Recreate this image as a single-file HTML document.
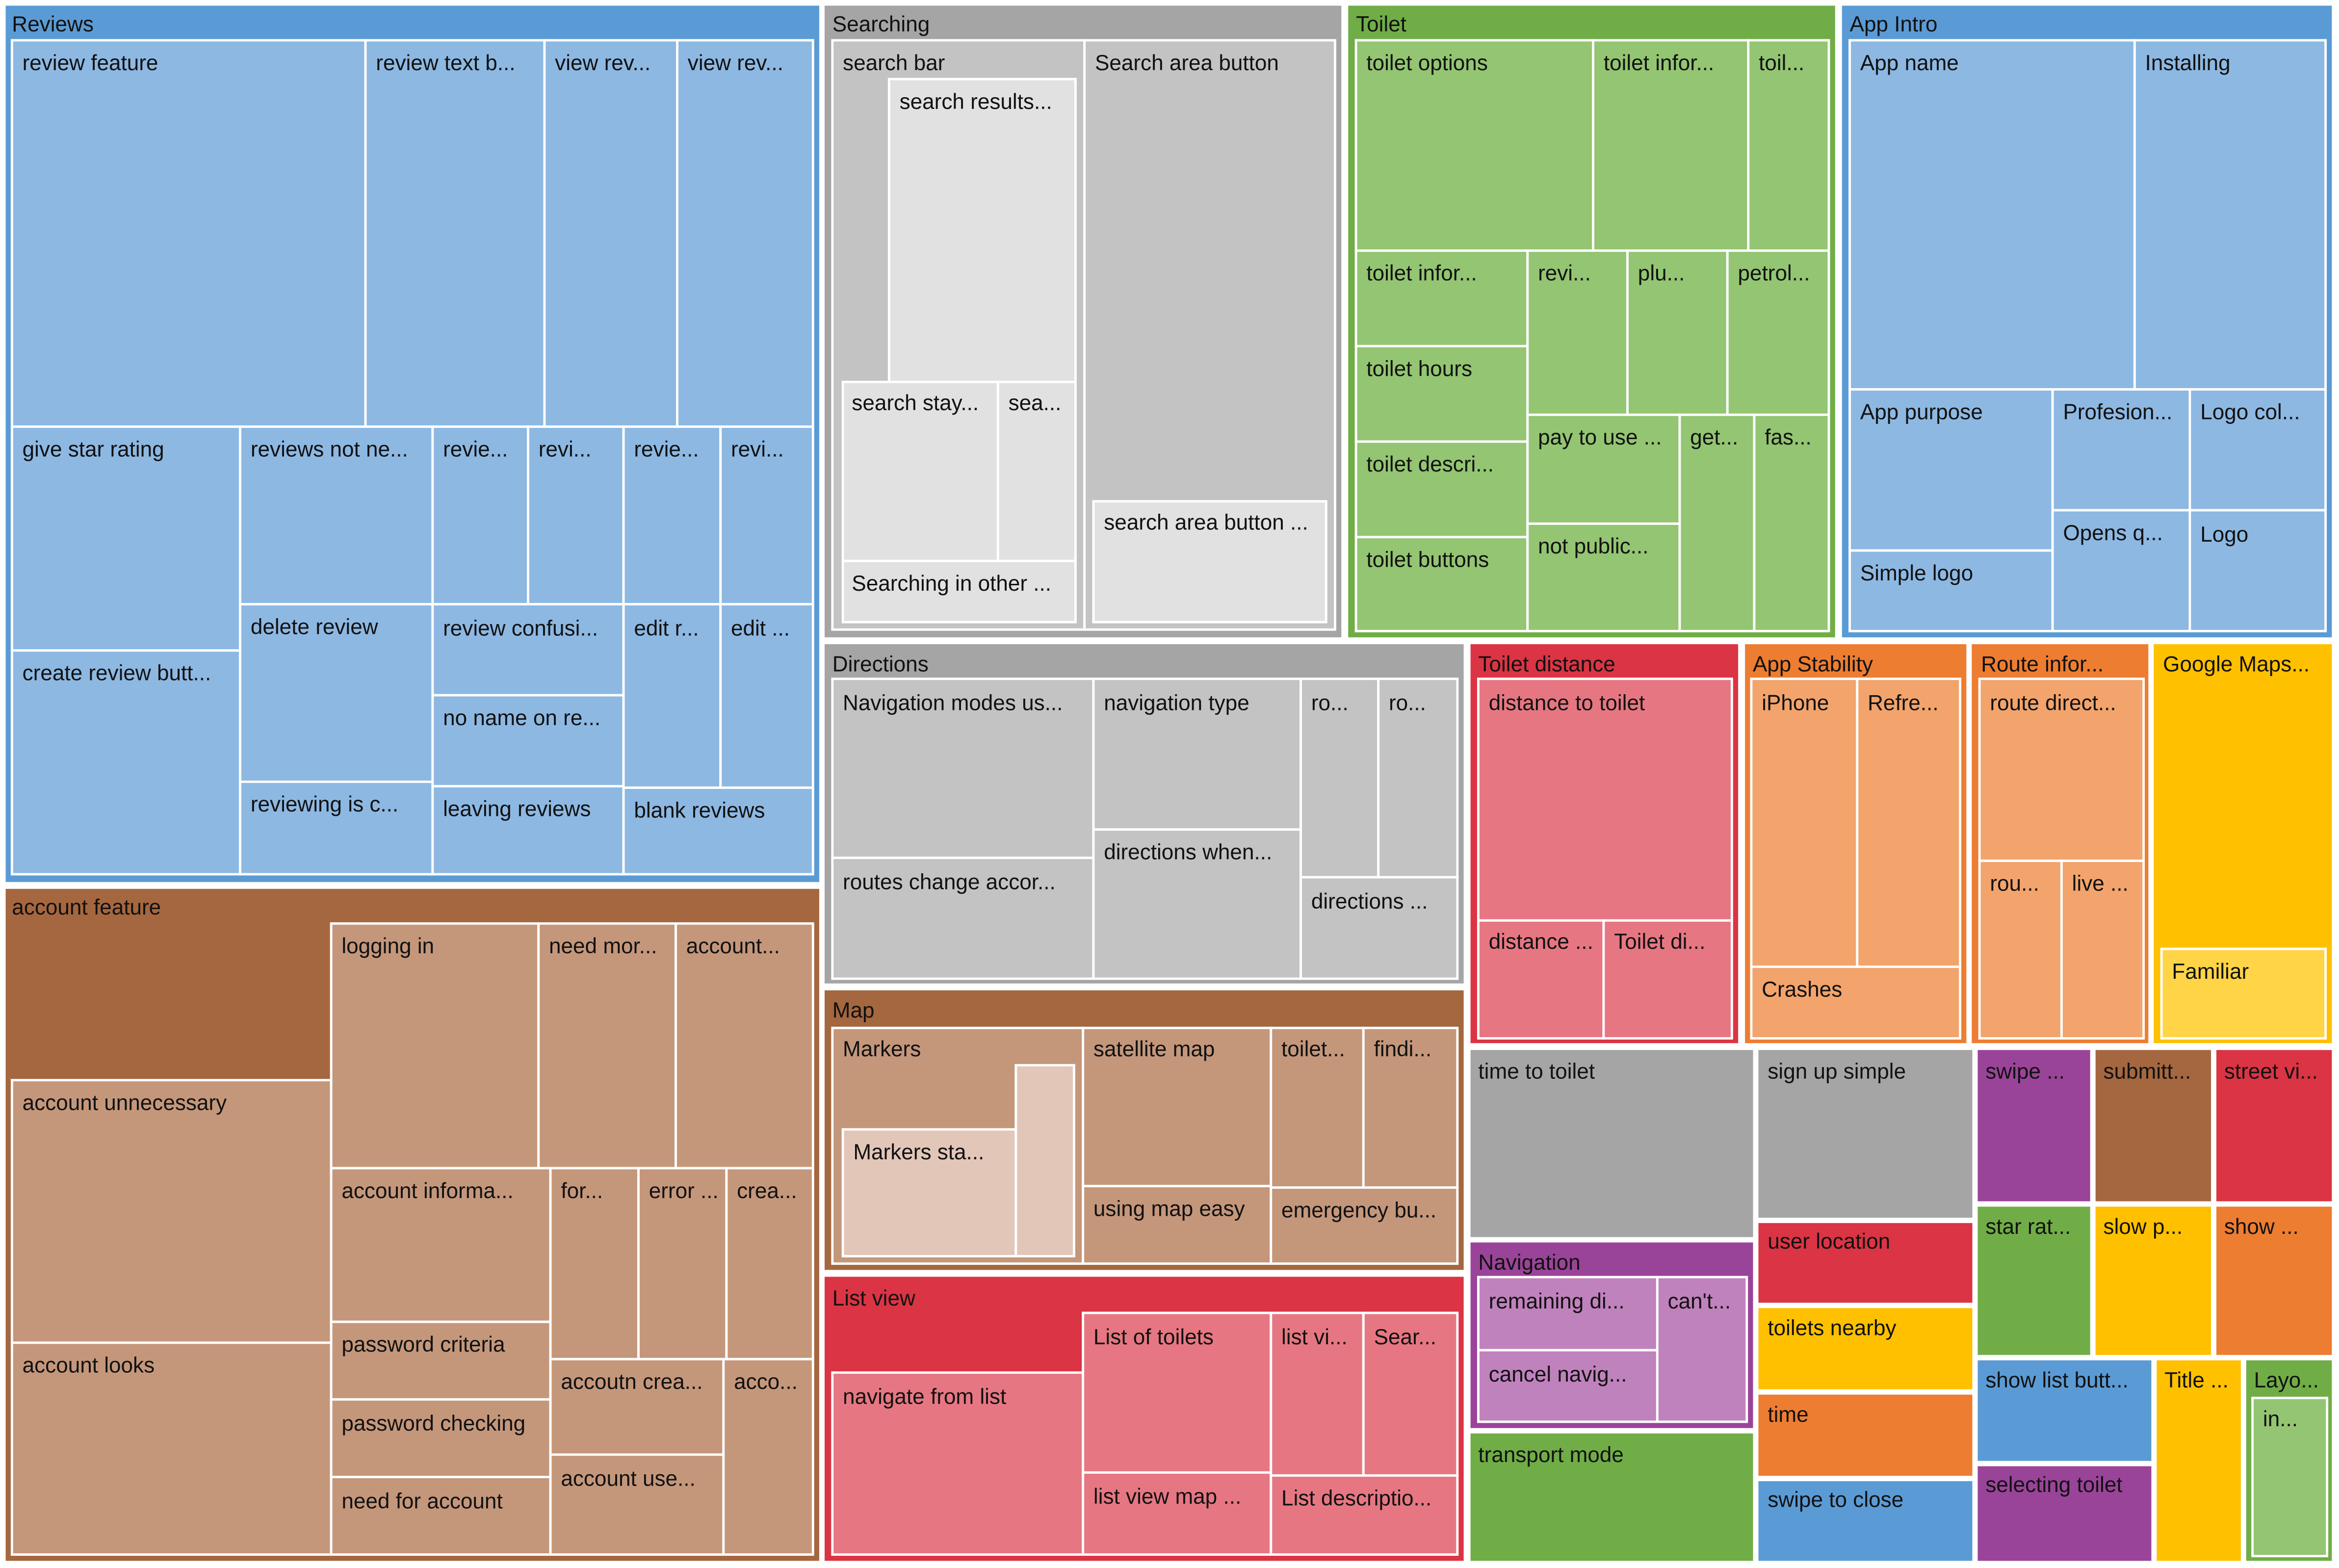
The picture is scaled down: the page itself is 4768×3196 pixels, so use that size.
<!DOCTYPE html>
<html><head><meta charset="utf-8"><style>
html,body{margin:0;padding:0;background:#fff;}
svg{display:block;}
text{font-family:"Liberation Sans",sans-serif;font-size:14.5px;fill:#111;}
rect{stroke:#fff;stroke-width:1.6;}
</style></head><body>
<svg width="4768" height="3196" viewBox="0 0 1568 1051" preserveAspectRatio="none" xmlns="http://www.w3.org/2000/svg">
<rect x="0" y="0" width="1568" height="1051" fill="#fff" style="stroke:none"/>

<!-- Reviews -->
<g>
<rect x="3" y="3" width="547" height="589" fill="#5b9bd5"/>
<text x="8" y="21">Reviews</text>
<g fill="#8db8e2">
<rect x="8" y="27" width="237" height="259"/><text x="15" y="47">review feature</text>
<rect x="245" y="27" width="120" height="259"/><text x="252" y="47">review text b...</text>
<rect x="365" y="27" width="89" height="259"/><text x="372" y="47">view rev...</text>
<rect x="454" y="27" width="91" height="259"/><text x="461" y="47">view rev...</text>
<rect x="8" y="286" width="153" height="150"/><text x="15" y="306">give star rating</text>
<rect x="8" y="436" width="153" height="150"/><text x="15" y="456">create review butt...</text>
<rect x="161" y="286" width="129" height="119"/><text x="168" y="306">reviews not ne...</text>
<rect x="161" y="405" width="129" height="119"/><text x="168" y="425">delete review</text>
<rect x="161" y="524" width="129" height="62"/><text x="168" y="544">reviewing is c...</text>
<rect x="290" y="286" width="64" height="119"/><text x="297" y="306">revie...</text>
<rect x="354" y="286" width="64" height="119"/><text x="361" y="306">revi...</text>
<rect x="290" y="405" width="128" height="61"/><text x="297" y="426">review confusi...</text>
<rect x="290" y="466" width="128" height="61"/><text x="297" y="486">no name on re...</text>
<rect x="290" y="527" width="128" height="59"/><text x="297" y="547">leaving reviews</text>
<rect x="418" y="286" width="65" height="119"/><text x="425" y="306">revie...</text>
<rect x="483" y="286" width="62" height="119"/><text x="490" y="306">revi...</text>
<rect x="418" y="405" width="65" height="123"/><text x="425" y="426">edit r...</text>
<rect x="483" y="405" width="62" height="123"/><text x="490" y="426">edit ...</text>
<rect x="418" y="528" width="127" height="58"/><text x="425" y="548">blank reviews</text>
</g></g>

<!-- Searching -->
<g>
<rect x="552" y="3" width="348" height="425" fill="#a5a5a5"/>
<text x="558" y="21">Searching</text>
<rect x="558" y="27" width="169" height="395" fill="#c3c3c3"/><text x="565" y="47">search bar</text>
<rect x="727" y="27" width="168" height="395" fill="#c3c3c3"/><text x="734" y="47">Search area button</text>
<g fill="#e1e1e1">
<rect x="596" y="53" width="125" height="203"/><text x="603" y="73">search results...</text>
<rect x="565" y="256" width="104" height="120"/><text x="571" y="275">search stay...</text>
<rect x="669" y="256" width="52" height="120"/><text x="676" y="275">sea...</text>
<rect x="565" y="376" width="156" height="41"/><text x="571" y="396">Searching in other ...</text>
<rect x="733" y="336" width="156" height="81"/><text x="740" y="355">search area button ...</text>
</g></g>

<!-- Toilet -->
<g>
<rect x="903" y="3" width="328" height="425" fill="#70ad47"/>
<text x="909" y="21">Toilet</text>
<g fill="#93c572">
<rect x="909" y="27" width="159" height="141"/><text x="916" y="47">toilet options</text>
<rect x="1068" y="27" width="104" height="141"/><text x="1075" y="47">toilet infor...</text>
<rect x="1172" y="27" width="54" height="141"/><text x="1179" y="47">toil...</text>
<rect x="909" y="168" width="115" height="64"/><text x="916" y="188">toilet infor...</text>
<rect x="909" y="232" width="115" height="64"/><text x="916" y="252">toilet hours</text>
<rect x="909" y="296" width="115" height="64"/><text x="916" y="316">toilet descri...</text>
<rect x="909" y="360" width="115" height="63"/><text x="916" y="380">toilet buttons</text>
<rect x="1024" y="168" width="67" height="110"/><text x="1031" y="188">revi...</text>
<rect x="1091" y="168" width="67" height="110"/><text x="1098" y="188">plu...</text>
<rect x="1158" y="168" width="68" height="110"/><text x="1165" y="188">petrol...</text>
<rect x="1024" y="278" width="102" height="73"/><text x="1031" y="298">pay to use ...</text>
<rect x="1024" y="351" width="102" height="72"/><text x="1031" y="371">not public...</text>
<rect x="1126" y="278" width="50" height="145"/><text x="1133" y="298">get...</text>
<rect x="1176" y="278" width="50" height="145"/><text x="1183" y="298">fas...</text>
</g></g>

<!-- App Intro -->
<g>
<rect x="1234" y="3" width="330" height="425" fill="#5b9bd5"/>
<text x="1240" y="21">App Intro</text>
<g fill="#8db8e2">
<rect x="1240" y="27" width="191" height="234"/><text x="1247" y="47">App name</text>
<rect x="1431" y="27" width="128" height="234"/><text x="1438" y="47">Installing</text>
<rect x="1240" y="261" width="136" height="108"/><text x="1247" y="281">App purpose</text>
<rect x="1240" y="369" width="136" height="54"/><text x="1247" y="389">Simple logo</text>
<rect x="1376" y="261" width="92" height="81"/><text x="1383" y="281">Profesion...</text>
<rect x="1376" y="342" width="92" height="81"/><text x="1383" y="362">Opens q...</text>
<rect x="1468" y="261" width="91" height="81"/><text x="1475" y="281">Logo col...</text>
<rect x="1468" y="342" width="91" height="81"/><text x="1475" y="363">Logo</text>
</g></g>

<!-- account feature -->
<g>
<rect x="3" y="595" width="547" height="452" fill="#a5673f"/>
<text x="8" y="613">account feature</text>
<g fill="#c4977b">
<rect x="8" y="724" width="214" height="176"/><text x="15" y="744">account unnecessary</text>
<rect x="8" y="900" width="214" height="142"/><text x="15" y="920">account looks</text>
<rect x="222" y="619" width="139" height="164"/><text x="229" y="639">logging in</text>
<rect x="361" y="619" width="92" height="164"/><text x="368" y="639">need mor...</text>
<rect x="453" y="619" width="92" height="164"/><text x="460" y="639">account...</text>
<rect x="222" y="783" width="147" height="103"/><text x="229" y="803">account informa...</text>
<rect x="222" y="886" width="147" height="52"/><text x="229" y="906">password criteria</text>
<rect x="222" y="938" width="147" height="52"/><text x="229" y="959">password checking</text>
<rect x="222" y="990" width="147" height="52"/><text x="229" y="1011">need for account</text>
<rect x="369" y="783" width="59" height="128"/><text x="376" y="803">for...</text>
<rect x="428" y="783" width="59" height="128"/><text x="435" y="803">error ...</text>
<rect x="487" y="783" width="58" height="128"/><text x="494" y="803">crea...</text>
<rect x="369" y="911" width="116" height="64"/><text x="376" y="931">accoutn crea...</text>
<rect x="369" y="975" width="116" height="67"/><text x="376" y="996">account use...</text>
<rect x="485" y="911" width="60" height="131"/><text x="492" y="931">acco...</text>
</g></g>

<!-- Directions -->
<g>
<rect x="552" y="431" width="430" height="229" fill="#a5a5a5"/>
<text x="558" y="450">Directions</text>
<g fill="#c3c3c3">
<rect x="558" y="455" width="175" height="120"/><text x="565" y="476">Navigation modes us...</text>
<rect x="558" y="575" width="175" height="81"/><text x="565" y="596">routes change accor...</text>
<rect x="733" y="455" width="139" height="101"/><text x="740" y="476">navigation type</text>
<rect x="733" y="556" width="139" height="100"/><text x="740" y="576">directions when...</text>
<rect x="872" y="455" width="52" height="133"/><text x="879" y="476">ro...</text>
<rect x="924" y="455" width="53" height="133"/><text x="931" y="476">ro...</text>
<rect x="872" y="588" width="105" height="68"/><text x="879" y="609">directions ...</text>
</g></g>

<!-- Map -->
<g>
<rect x="552" y="663" width="430" height="189" fill="#a5673f"/>
<text x="558" y="682">Map</text>
<g fill="#c4977b">
<rect x="558" y="689" width="168" height="158"/><text x="565" y="708">Markers</text>
<rect x="726" y="689" width="126" height="106"/><text x="733" y="708">satellite map</text>
<rect x="726" y="795" width="126" height="52"/><text x="733" y="815">using map easy</text>
<rect x="852" y="689" width="62" height="107"/><text x="859" y="708">toilet...</text>
<rect x="914" y="689" width="63" height="107"/><text x="921" y="708">findi...</text>
<rect x="852" y="796" width="125" height="51"/><text x="859" y="816">emergency bu...</text>
</g>
<g fill="#e2c6b8">
<rect x="565" y="757" width="116" height="85"/><text x="572" y="777">Markers sta...</text>
<rect x="681" y="714" width="39" height="128"/>
</g></g>

<!-- List view -->
<g>
<rect x="552" y="855" width="430" height="192" fill="#db3444"/>
<text x="558" y="875">List view</text>
<g fill="#e67782">
<rect x="558" y="920" width="168" height="122"/><text x="565" y="941">navigate from list</text>
<rect x="726" y="880" width="126" height="107"/><text x="733" y="901">List of toilets</text>
<rect x="726" y="987" width="126" height="55"/><text x="733" y="1008">list view map ...</text>
<rect x="852" y="880" width="62" height="109"/><text x="859" y="901">list vi...</text>
<rect x="914" y="880" width="63" height="109"/><text x="921" y="901">Sear...</text>
<rect x="852" y="989" width="125" height="53"/><text x="859" y="1009">List descriptio...</text>
</g></g>

<!-- Toilet distance -->
<g>
<rect x="985" y="431" width="181" height="269" fill="#db3444"/>
<text x="991" y="450">Toilet distance</text>
<g fill="#e67782">
<rect x="991" y="455" width="170" height="162"/><text x="998" y="476">distance to toilet</text>
<rect x="991" y="617" width="84" height="79"/><text x="998" y="636">distance ...</text>
<rect x="1075" y="617" width="86" height="79"/><text x="1082" y="636">Toilet di...</text>
</g></g>

<!-- App Stability -->
<g>
<rect x="1169" y="431" width="150" height="269" fill="#ed7d31"/>
<text x="1175" y="450">App Stability</text>
<g fill="#f2a46c">
<rect x="1174" y="455" width="71" height="193"/><text x="1181" y="476">iPhone</text>
<rect x="1245" y="455" width="69" height="193"/><text x="1252" y="476">Refre...</text>
<rect x="1174" y="648" width="140" height="48"/><text x="1181" y="668">Crashes</text>
</g></g>

<!-- Route infor -->
<g>
<rect x="1321" y="431" width="120" height="269" fill="#ed7d31"/>
<text x="1328" y="450">Route infor...</text>
<g fill="#f2a46c">
<rect x="1327" y="455" width="110" height="122"/><text x="1334" y="476">route direct...</text>
<rect x="1327" y="577" width="55" height="119"/><text x="1334" y="597">rou...</text>
<rect x="1382" y="577" width="55" height="119"/><text x="1389" y="597">live ...</text>
</g></g>

<!-- Google Maps -->
<g>
<rect x="1443" y="431" width="121" height="269" fill="#ffc000"/>
<text x="1450" y="450">Google Maps...</text>
<rect x="1449" y="636" width="110" height="60" fill="#ffd446"/><text x="1456" y="656">Familiar</text>
</g>

<!-- misc leaves -->
<rect x="985" y="703" width="191" height="127" fill="#a5a5a5"/><text x="991" y="723">time to toilet</text>
<rect x="1178" y="703" width="145" height="114" fill="#a5a5a5"/><text x="1185" y="723">sign up simple</text>

<g>
<rect x="985" y="832" width="191" height="126" fill="#9a4499"/>
<text x="991" y="851">Navigation</text>
<g fill="#c082bd">
<rect x="991" y="856" width="120" height="49"/><text x="998" y="877">remaining di...</text>
<rect x="991" y="905" width="120" height="48"/><text x="998" y="926">cancel navig...</text>
<rect x="1111" y="856" width="60" height="97"/><text x="1118" y="877">can't...</text>
</g></g>

<rect x="985" y="960" width="191" height="87" fill="#70ad47"/><text x="991" y="980">transport mode</text>
<rect x="1178" y="819" width="145" height="55" fill="#db3444"/><text x="1185" y="837">user location</text>
<rect x="1178" y="876" width="145" height="56" fill="#ffc000"/><text x="1185" y="895">toilets nearby</text>
<rect x="1178" y="934" width="145" height="56" fill="#ed7d31"/><text x="1185" y="953">time</text>
<rect x="1178" y="992" width="145" height="55" fill="#5b9bd5"/><text x="1185" y="1010">swipe to close</text>

<rect x="1325" y="703" width="77" height="103" fill="#9a4499"/><text x="1331" y="723">swipe ...</text>
<rect x="1404" y="703" width="79" height="103" fill="#a5673f"/><text x="1410" y="723">submitt...</text>
<rect x="1485" y="703" width="79" height="103" fill="#db3444"/><text x="1491" y="723">street vi...</text>
<rect x="1325" y="808" width="77" height="101" fill="#70ad47"/><text x="1331" y="827">star rat...</text>
<rect x="1404" y="808" width="79" height="101" fill="#ffc000"/><text x="1410" y="827">slow p...</text>
<rect x="1485" y="808" width="79" height="101" fill="#ed7d31"/><text x="1491" y="827">show ...</text>
<rect x="1325" y="911" width="118" height="69" fill="#5b9bd5"/><text x="1331" y="930">show list butt...</text>
<rect x="1325" y="982" width="118" height="65" fill="#9a4499"/><text x="1331" y="1000">selecting toilet</text>
<rect x="1445" y="911" width="58" height="136" fill="#ffc000"/><text x="1451" y="930">Title ...</text>
<rect x="1505" y="911" width="59" height="136" fill="#70ad47"/><text x="1511" y="930">Layo...</text>
<rect x="1510" y="937" width="50" height="106" fill="#93c572"/><text x="1517" y="956">in...</text>
</svg>
</body></html>
